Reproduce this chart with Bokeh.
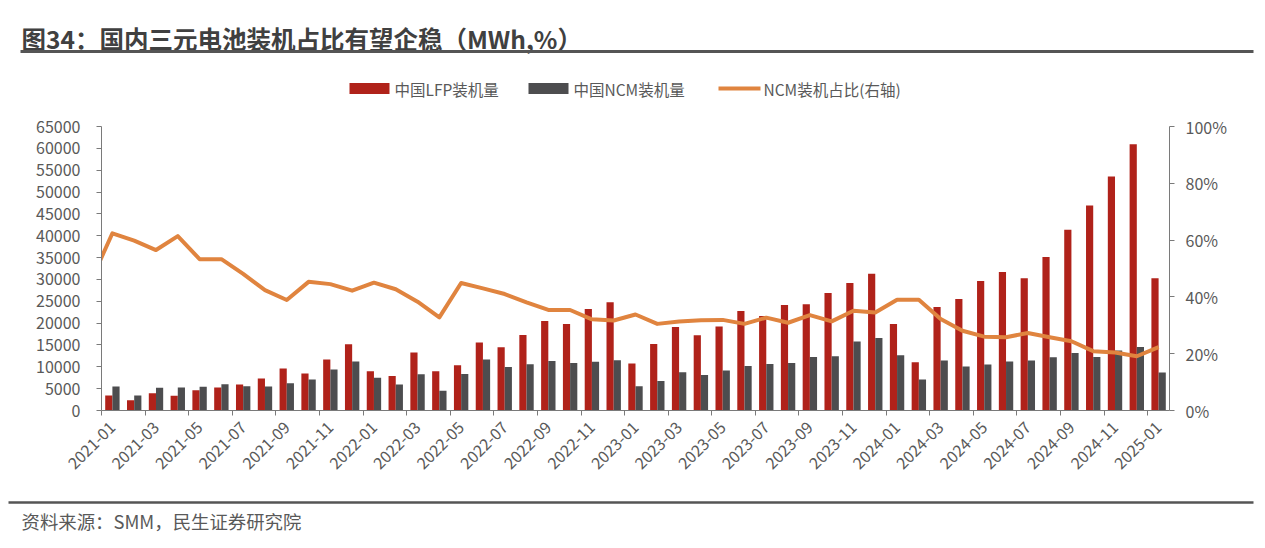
import math
from bokeh.plotting import figure
from bokeh.models import Range1d, LinearAxis, FixedTicker, NumeralTickFormatter
from bokeh.layouts import column
from bokeh.embed import file_html
from bokeh.resources import INLINE
from bokeh.core.properties import value

# ---------------- data ----------------
months = [f"{y}-{m:02d}" for y in range(2021, 2025) for m in range(1, 13)] + ["2025-01"]

lfp = [3430, 2360, 3960, 3350, 4650, 5260, 5940, 7310, 9600, 8460, 11660, 15160,
       8990, 7920, 13260, 8990, 10360, 15540, 14480, 17300, 20500, 19810, 23240, 24770,
       10740, 15240, 19130, 17220, 19200, 22780, 21640, 24150, 24310, 26900, 29180, 31320,
       19810, 11050, 23700, 25530, 29640, 31700, 30250, 35130, 41380, 46940, 53570, 60960,
       30250]

ncm = [5490, 3430, 5180, 5260, 5410, 6020, 5560, 5490, 6250, 7090, 9370, 11200,
       7470, 5940, 8310, 4500, 8380, 11660, 9980, 10590, 11350, 10900, 11130, 11510,
       5560, 6780, 8760, 8150, 9140, 10210, 10670, 10900, 12270, 12420, 15770, 16610,
       12650, 7090, 11430, 10060, 10520, 11200, 11430, 12190, 13180, 12270, 13720, 14550,
       8690]

# NCM share (%) ; the 2020-12 point only shows as the clipped segment at the left edge
ncm_share_2020_12 = 45.4
ncm_share = [62.4, 59.8, 56.5, 61.4, 53.3, 53.3, 48.1, 42.4, 38.9, 45.3, 44.5, 42.2,
             45.0, 42.7, 38.3, 32.8, 44.9, 43.0, 41.0, 38.1, 35.4, 35.4, 32.1, 31.7,
             33.8, 30.5, 31.3, 31.8, 31.9, 30.5, 32.7, 30.9, 33.6, 31.4, 35.1, 34.5,
             39.0, 39.0, 32.2, 28.1, 26.0, 25.8, 27.3, 25.8, 24.4, 20.9, 20.4, 19.1,
             22.3]

left_ticks = list(range(0, 65001, 5000))
right_ticks = [0, 20, 40, 60, 80, 100]

title_text = "图34：国内三元电池装机占比有望企稳（MWh,%）"
source_text = "资料来源：SMM，民生证券研究院"
legend_labels = ["中国LFP装机量", "中国NCM装机量", "NCM装机占比(右轴)"]

# ---------------- style ----------------
FONT = value("Noto Sans CJK SC")
RED = "#B0221A"
GRAY = "#4D4D4F"
ORANGE = "#E0843F"
TXT = "#595959"
AX = "#7a7a7a"
W = 1265

def blank(h):
    f = figure(width=W, height=h, x_range=Range1d(0, W), y_range=Range1d(h, 0),
               toolbar_location=None, output_backend="svg", min_border=0,
               x_axis_type=None, y_axis_type=None)
    f.grid.visible = False
    f.outline_line_color = None
    f.frame_align = False
    return f

# ---------------- header (title + legend) ----------------
top = blank(110)
top.text(x=[21], y=[38], text=[title_text], text_font=FONT, text_font_style="bold",
         text_font_size="24.5px", text_baseline="middle", text_color="#404040")
top.segment(x0=[20], y0=[51], x1=[1253], y1=[51], line_color="#555555", line_width=3)

ly = 88
top.quad(left=[349], right=[389], top=[ly - 5.5], bottom=[ly + 5.5], fill_color=RED, line_color=None)
top.quad(left=[528], right=[568], top=[ly - 5.5], bottom=[ly + 5.5], fill_color=GRAY, line_color=None)
top.segment(x0=[718], y0=[ly], x1=[760], y1=[ly], line_color=ORANGE, line_width=4)
top.text(x=[394, 573, 763], y=[ly, ly, ly], text=legend_labels, text_font=FONT,
         text_font_size="15.5px", text_baseline="middle", text_color=TXT)

# ---------------- main chart ----------------
p = figure(width=W, height=380, x_range=Range1d(-0.5, 48.5), y_range=Range1d(0, 65000),
           toolbar_location=None, output_backend="svg",
           min_border_left=101, min_border_right=W - 1169, min_border_top=16, min_border_bottom=80,
           x_axis_type=None, y_axis_type=None)
p.grid.visible = False
p.outline_line_color = None
p.frame_align = False
p.extra_y_ranges = {"pct": Range1d(0, 100)}

xs = list(range(len(months)))
p.vbar(x=[i - 0.165 for i in xs], top=lfp, width=0.33, bottom=0, fill_color=RED, line_color=None)
p.vbar(x=[i + 0.165 for i in xs], top=ncm, width=0.33, bottom=0, fill_color=GRAY, line_color=None)

line_x = [-1] + xs
line_y = [ncm_share_2020_12] + ncm_share
p.line(x=line_x, y=line_y, y_range_name="pct", line_color=ORANGE, line_width=4, line_join="round")

def style_axis(ax):
    ax.axis_line_color = AX
    ax.major_tick_line_color = AX
    ax.minor_tick_line_color = AX
    ax.major_label_text_font = "Noto Sans CJK SC"
    ax.major_label_text_font_size = "16px"
    ax.major_label_text_color = TXT

yl = LinearAxis(ticker=FixedTicker(ticks=left_ticks), formatter=NumeralTickFormatter(format="0"))
style_axis(yl)
yl.major_tick_out = 5
yl.major_tick_in = 0
yl.minor_tick_out = 0
yl.major_label_standoff = 16
p.add_layout(yl, "left")

yr = LinearAxis(y_range_name="pct", ticker=FixedTicker(ticks=right_ticks),
                major_label_overrides={t: f"{t}%" for t in right_ticks})
style_axis(yr)
yr.major_tick_out = 5
yr.major_tick_in = 0
yr.minor_tick_out = 0
yr.major_label_standoff = 11
p.add_layout(yr, "right")

label_idx = list(range(0, len(months), 2))
xa = LinearAxis(ticker=FixedTicker(ticks=label_idx, minor_ticks=[i - 0.5 for i in label_idx]),
                major_label_overrides={i: months[i] for i in label_idx})
style_axis(xa)
xa.major_tick_out = 0
xa.major_tick_in = 0
xa.minor_tick_out = 5
xa.minor_tick_in = 0
xa.major_label_orientation = math.pi / 4
xa.major_label_standoff = 9
p.add_layout(xa, "below")

# ---------------- footer ----------------
bot = blank(50)
bot.segment(x0=[8], y0=[12], x1=[1253], y1=[12], line_color="#555555", line_width=2.5)
bot.text(x=[21], y=[30], text=[source_text], text_font=FONT, text_font_size="18.4px",
         text_baseline="middle", text_color=TXT)

layout = column(top, p, bot, spacing=0)
open("out.html", "w").write(file_html(layout, INLINE))
